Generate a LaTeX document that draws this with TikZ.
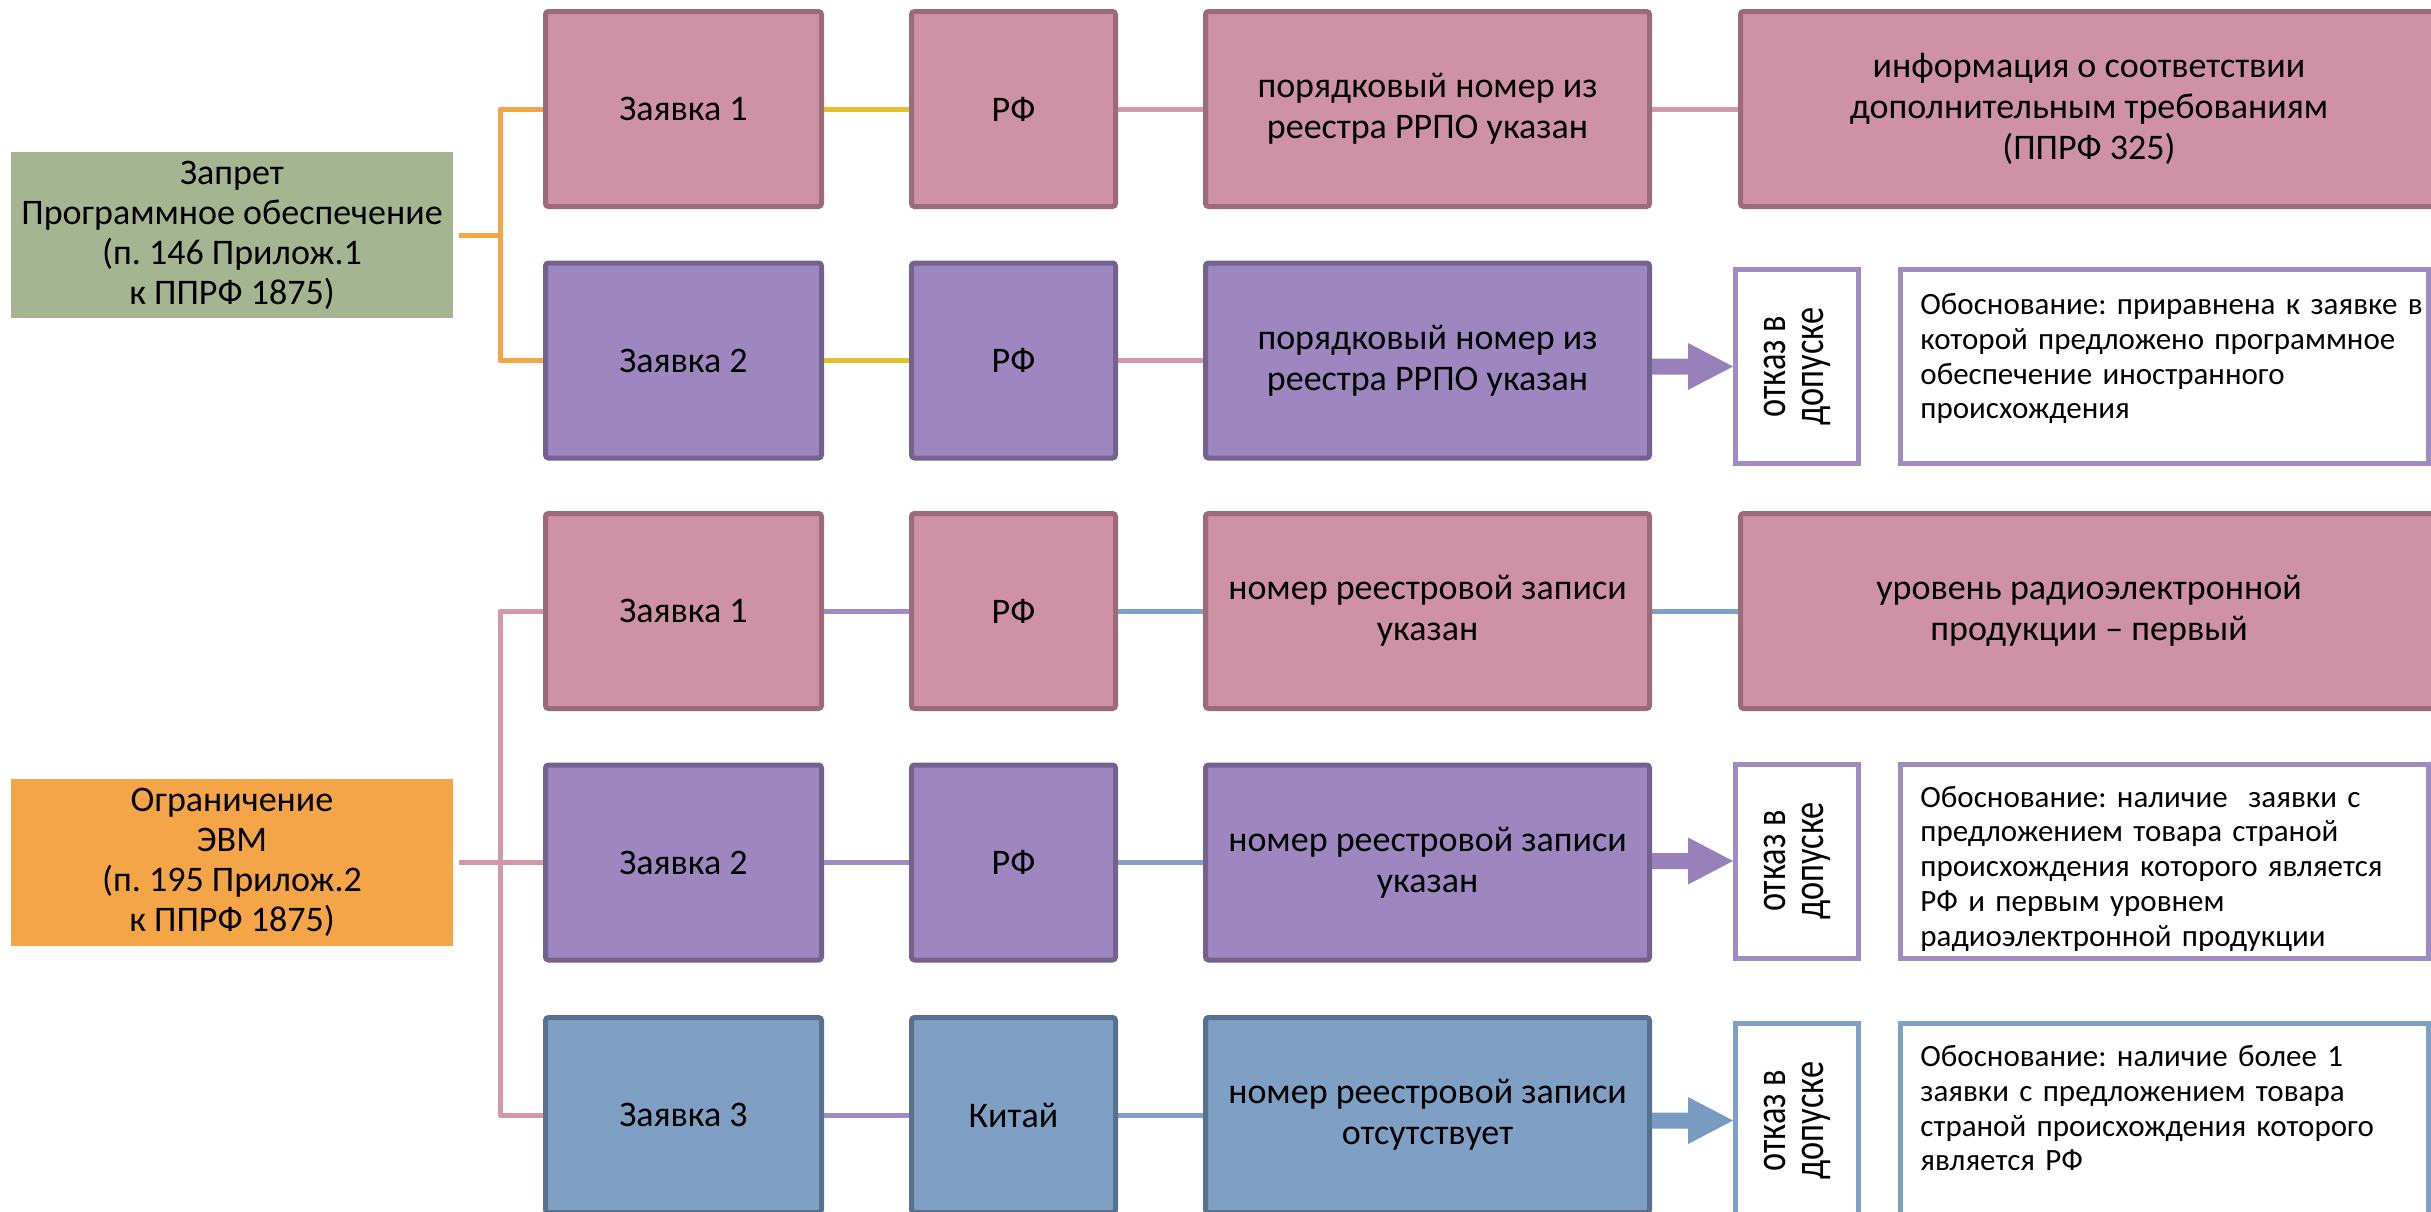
\documentclass[tikz,border=0pt]{standalone}
\usepackage{fontspec}
\setmainfont{Carlito}
\usepackage{graphicx}
\usetikzlibrary{calc}
\frenchspacing
\definecolor{pinkF}{RGB}{207,145,166}
\definecolor{pinkD}{RGB}{156,107,122}
\definecolor{purF}{RGB}{158,135,192}
\definecolor{purD}{RGB}{116,98,142}
\definecolor{bluF}{RGB}{127,159,196}
\definecolor{bluD}{RGB}{88,113,143}
\definecolor{grnF}{RGB}{166,181,145}
\definecolor{orgF}{RGB}{243,165,72}
\definecolor{yelL}{RGB}{232,190,44}
\definecolor{pinkL}{RGB}{212,150,170}
\definecolor{purL}{RGB}{160,138,196}
\definecolor{bluL}{RGB}{127,159,196}
\definecolor{purA}{RGB}{152,128,186}
\definecolor{bluA}{RGB}{121,155,193}
\newcommand{\otkaz}{\rotatebox{90}{\scalebox{0.78}[1]{\fontsize{22}{19}\selectfont\begin{tabular}{@{}c@{}}отказ в\\допуске\end{tabular}}}}
\begin{document}
\begin{tikzpicture}[x=0.5pt,y=-0.5pt,
  box/.style={draw, line width=2.5pt, rounded corners=1.5pt, align=center, inner sep=0pt,
    font=\fontsize{18}{20.5}\selectfont},
  pinkbox/.style={box, fill=pinkF, draw=pinkD},
  purbox/.style={box, fill=purF, draw=purD},
  blubox/.style={box, fill=bluF, draw=bluD},
  colZ/.style={minimum width=138pt, minimum height=97.5pt},
  colR/.style={minimum width=102pt, minimum height=97.5pt},
  colM/.style={minimum width=222pt, minimum height=97.5pt},
  colI/.style={minimum width=348.5pt, minimum height=97.5pt},
  otk/.style={draw, line width=2.5pt, fill=white, inner sep=0pt, minimum width=61.5pt, minimum height=97pt},
  obos/.style={draw, line width=2.5pt, fill=white, inner sep=0pt, minimum width=264pt, minimum height=97pt},
  btext/.style={font=\fontsize{15.5}{17.4}\selectfont, align=left, inner sep=0pt, text width=270pt, anchor=north west},
  headbox/.style={inner sep=0pt, align=center, minimum width=221pt, font=\fontsize{18}{20}\selectfont},
  conn/.style={line width=2.5pt, line join=round}
]
\useasboundingbox (0,0) rectangle (2431,1211);
\fill[white] (0,0) rectangle (2431,1211);
\clip (0,0) rectangle (2431,1211);

% left headers
\node[headbox, fill=grnF, minimum height=83pt] (g) at (232,235)
  {Запрет\\Программное обеспечение\\(п. 146 Прилож.1\\к ППРФ 1875)};
\node[headbox, fill=orgF, minimum height=83.5pt] (org) at (232,862.5)
  {Ограничение\\ЭВМ\\(п. 195 Прилож.2\\к ППРФ 1875)};

% row 1
\node[pinkbox, colZ] (z1) at (683.5,109) {Заявка 1};
\node[pinkbox, colR] (r1) at (1013.5,109) {РФ};
\node[pinkbox, colM] (m1) at (1427.5,109) {порядковый номер из\\реестра РРПО указан};
\node[pinkbox, colI] (i1) at (2089,109) {информация о соответствии\\дополнительным требованиям\\(ППРФ 325)};
% row 2
\node[purbox, colZ] (z2) at (683.5,360.5) {Заявка 2};
\node[purbox, colR] (r2) at (1013.5,360.5) {РФ};
\node[purbox, colM] (m2) at (1427.5,360.5) {порядковый номер из\\реестра РРПО указан};
\node[otk, draw=purL] (o2) at (1797,366.5) {\otkaz};
\node[obos, draw=purL] (b2) at (2164.5,366.5) {};
\node[btext] (b2t) at ([shift={(22,26)}]b2.north west)
  {Обоснование: приравнена к заявке в\\которой предложено программное\\обеспечение иностранного\\происхождения};
% row 3
\node[pinkbox, colZ] (z3) at (683.5,611) {Заявка 1};
\node[pinkbox, colR] (r3) at (1013.5,611) {РФ};
\node[pinkbox, colM] (m3) at (1427.5,611) {номер реестровой записи\\указан};
\node[pinkbox, colI] (i3) at (2089,611) {уровень радиоэлектронной\\продукции – первый};
% row 4
\node[purbox, colZ] (z4) at (683.5,862.5) {Заявка 2};
\node[purbox, colR] (r4) at (1013.5,862.5) {РФ};
\node[purbox, colM] (m4) at (1427.5,862.5) {номер реестровой записи\\указан};
\node[otk, draw=purL] (o4) at (1797,861) {\otkaz};
\node[obos, draw=purL] (b4) at (2164.5,861) {};
\node[btext] (b4t) at ([shift={(22,24)}]b4.north west)
  {Обоснование: наличие~ заявки с\\предложением товара страной\\происхождения которого является\\РФ и первым уровнем\\радиоэлектронной продукции};
% row 5
\node[blubox, colZ] (z5) at (683.5,1115) {Заявка 3};
\node[blubox, colR] (r5) at (1013.5,1115) {Китай};
\node[blubox, colM] (m5) at (1427.5,1115) {номер реестровой записи\\отсутствует};
\node[otk, draw=bluL] (o5) at (1797,1120.5) {\otkaz};
\node[obos, draw=bluL] (b5) at (2164.5,1120.5) {};
\node[btext] (b5t) at ([shift={(22,24)}]b5.north west)
  {Обоснование: наличие более 1\\заявки с предложением товара\\страной происхождения которого\\является РФ};

% brackets
\coordinate (bt) at (500,235);
\coordinate (bb) at (500,862.5);
\draw[conn, orgF] (z1.west) -| (bt) |- (z2.west);
\draw[conn, orgF] ([xshift=3pt]g.east) -- (bt);
\draw[conn, pinkL] (z3.west) -| (bb) |- (z5.west);
\draw[conn, pinkL] ([xshift=3pt]org.east) -- (z4.west);

% row connectors
\draw[conn, yelL] (z1.east) -- (r1.west);
\draw[conn, pinkL] (r1.east) -- (m1.west);
\draw[conn, pinkL] (m1.east) -- (i1.west);
\draw[conn, yelL] (z2.east) -- (r2.west);
\draw[conn, pinkL] (r2.east) -- (m2.west);
\draw[conn, purL] (z3.east) -- (r3.west);
\draw[conn, bluL] (r3.east) -- (m3.west);
\draw[conn, bluL] (m3.east) -- (i3.west);
\draw[conn, purL] (z4.east) -- (r4.west);
\draw[conn, bluL] (r4.east) -- (m4.west);
\draw[conn, purL] (z5.east) -- (r5.west);
\draw[conn, bluL] (r5.east) -- (m5.west);

% block arrows
\fill[purA] (m2.east |- o2.west) ++(0,-8) -- ++(36,0) -- ++(0,-15.5) -- (o2.west) -- ++(-45,23.5) -- ++(0,-15.5) -- ++(-36,0) -- cycle;
\fill[purA] (m4.east |- o4.west) ++(0,-8) -- ++(36,0) -- ++(0,-15.5) -- (o4.west) -- ++(-45,23.5) -- ++(0,-15.5) -- ++(-36,0) -- cycle;
\fill[bluA] (m5.east |- o5.west) ++(0,-8) -- ++(36,0) -- ++(0,-15.5) -- (o5.west) -- ++(-45,23.5) -- ++(0,-15.5) -- ++(-36,0) -- cycle;
\end{tikzpicture}
\end{document}
